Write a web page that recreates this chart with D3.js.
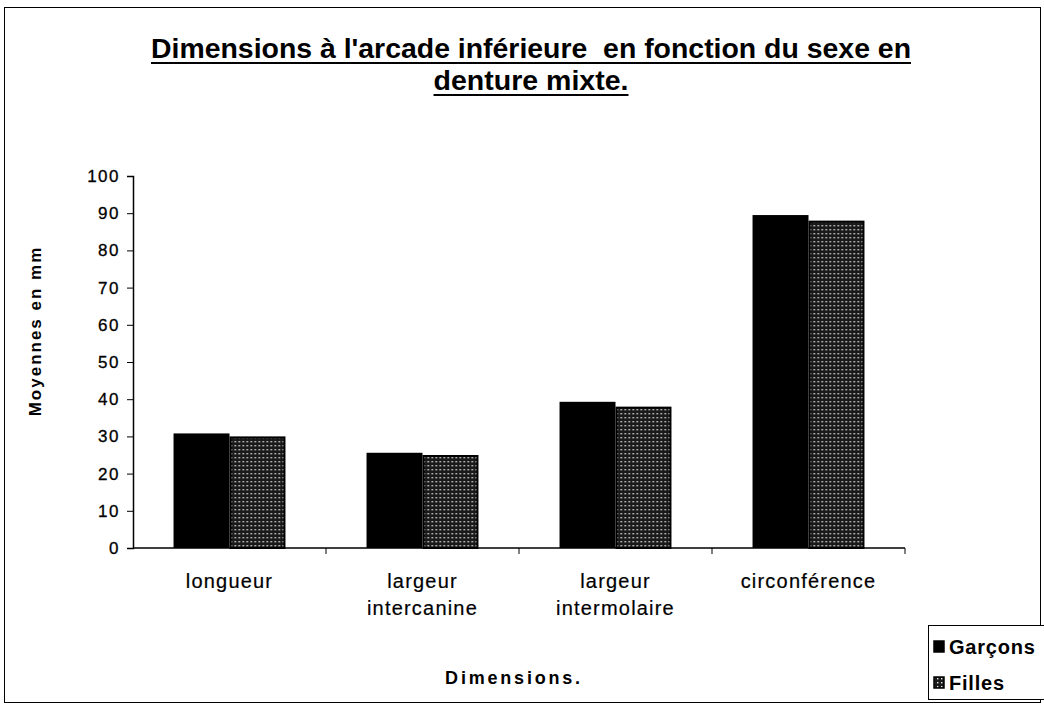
<!DOCTYPE html>
<html>
<head>
<meta charset="utf-8">
<script src="https://cdn.jsdelivr.net/npm/d3@7"></script>
<style>
  html, body { margin: 0; padding: 0; background: #fff; }
  svg { display: block; }
  text { font-family: "Liberation Sans", Arial, sans-serif; fill: #000; }
</style>
</head>
<body>
<svg id="chart" width="1044" height="706"></svg>
<script>
// Lower-arch dimensions by sex, mixed dentition (means in mm)
const categories = [["longueur"], ["largeur", "intercanine"], ["largeur", "intermolaire"], ["circonférence"]];
const seriesNames = ["Garçons", "Filles"];
const garcons = [30.8, 25.6, 39.3, 89.5];
const filles = [30.0, 25.0, 38.0, 88.0];
const yTicks = [0, 10, 20, 30, 40, 50, 60, 70, 80, 90, 100];
const titleLines = ["Dimensions à l'arcade inférieure  en fonction du sexe en", "denture mixte."];

const svg = d3.select("#chart");

// dotted fill for the second series
const defs = svg.append("defs");
const pat = defs.append("pattern").attr("id", "dots")
  .attr("patternUnits", "userSpaceOnUse").attr("width", 4).attr("height", 4);
pat.append("rect").attr("width", 4).attr("height", 4).attr("fill", "#1a1a1a");
pat.append("rect").attr("x", 1).attr("y", 1).attr("width", 1.4).attr("height", 1.4).attr("fill", "#e8e8e8");

// outer frame
svg.append("rect").attr("x", 4.5).attr("y", 7.5).attr("width", 1036).attr("height", 695)
  .attr("fill", "none").attr("stroke", "#000").attr("stroke-width", 1);

// title, underlined
const titleWidths = [760, 195];
titleLines.forEach((t, i) => {
  const yb = 58 + i * 32;
  svg.append("text").attr("x", 531).attr("y", yb)
    .attr("text-anchor", "middle").attr("font-size", 28).attr("font-weight", "bold")
    .attr("textLength", titleWidths[i]).attr("lengthAdjust", "spacingAndGlyphs")
    .style("white-space", "pre").text(t);
  svg.append("line").attr("x1", 531 - titleWidths[i] / 2).attr("x2", 531 + titleWidths[i] / 2)
    .attr("y1", yb + 5).attr("y2", yb + 5).attr("stroke", "#000").attr("stroke-width", 2);
});

const plot = { left: 133, right: 905, top: 176, bottom: 548 };

const x = d3.scaleBand().domain(d3.range(categories.length))
  .range([plot.left, plot.right]).paddingInner(0.42).paddingOuter(0.21);
const xs = d3.scaleBand().domain(seriesNames).range([0, x.bandwidth()]);
const y = d3.scaleLinear().domain([0, 100]).range([plot.bottom, plot.top]);

// bars
const groups = svg.append("g").selectAll("g").data(categories.map((c, i) => i)).join("g")
  .attr("transform", i => `translate(${x(i)},0)`);
groups.append("rect")
  .attr("x", xs("Garçons")).attr("width", xs.bandwidth())
  .attr("y", i => y(garcons[i])).attr("height", i => y(0) - y(garcons[i]))
  .attr("fill", "#000");
groups.append("rect")
  .attr("x", xs("Filles") + 1).attr("width", xs.bandwidth() - 2)
  .attr("y", i => y(filles[i]) + 1).attr("height", i => y(0) - y(filles[i]) - 1)
  .attr("fill", "url(#dots)").attr("stroke", "#000").attr("stroke-width", 2);

// y axis
const yAxis = svg.append("g").attr("transform", `translate(${plot.left},0)`)
  .call(d3.axisLeft(y).tickValues(yTicks).tickSize(6).tickPadding(7));
yAxis.select(".domain").attr("stroke", "#000").attr("stroke-width", 1.5);
yAxis.selectAll("line").attr("stroke", "#000");
yAxis.selectAll("text").attr("font-size", 17).attr("letter-spacing", 1.5)
  .attr("font-family", "Liberation Sans, Arial, sans-serif")
  .attr("stroke", "#000").attr("stroke-width", 0.3);

// x axis line with category separators
const xAxis = svg.append("g").attr("transform", `translate(0,${plot.bottom})`);
xAxis.append("line").attr("x1", plot.left).attr("x2", plot.right)
  .attr("stroke", "#000").attr("stroke-width", 1.5);
const step = (plot.right - plot.left) / categories.length;
xAxis.selectAll(".sep").data(d3.range(1, categories.length + 1)).join("line")
  .attr("class", "sep")
  .attr("x1", i => plot.left + i * step).attr("x2", i => plot.left + i * step)
  .attr("y1", 0).attr("y2", 6).attr("stroke", "#000");

// category labels
categories.forEach((lines, i) => {
  const cx = x(i) + x.bandwidth() / 2;
  lines.forEach((l, j) => {
    svg.append("text").attr("x", cx).attr("y", 588 + j * 27)
      .attr("text-anchor", "middle").attr("font-size", 20).attr("letter-spacing", 1.2)
      .attr("stroke", "#000").attr("stroke-width", 0.2)
      .text(l);
  });
});

// axis titles
svg.append("text").attr("transform", "translate(41,331) rotate(-90)")
  .attr("text-anchor", "middle").attr("font-size", 17).attr("font-weight", "bold")
  .attr("letter-spacing", 2).text("Moyennes en mm");
svg.append("text").attr("x", 514).attr("y", 684).attr("text-anchor", "middle")
  .attr("font-size", 18).attr("font-weight", "bold").attr("letter-spacing", 2.8)
  .text("Dimensions.");

// legend
const lg = svg.append("g").attr("transform", "translate(928,625)");
lg.append("rect").attr("x", 0.5).attr("y", 0.5).attr("width", 120).attr("height", 74)
  .attr("fill", "#fff").attr("stroke", "#000");
const swatchFill = ["#000", "url(#dots)"];
seriesNames.forEach((n, i) => {
  const yy = 22 + i * 36;
  lg.append("rect").attr("x", 6).attr("y", yy - 6).attr("width", 10).attr("height", 11)
    .attr("fill", swatchFill[i]).attr("stroke", "#000").attr("stroke-width", 1.5);
  lg.append("text").attr("x", 21).attr("y", yy + 7).attr("font-size", 20)
    .attr("font-weight", "bold").attr("letter-spacing", 0.8).text(n);
});
</script>
</body>
</html>
